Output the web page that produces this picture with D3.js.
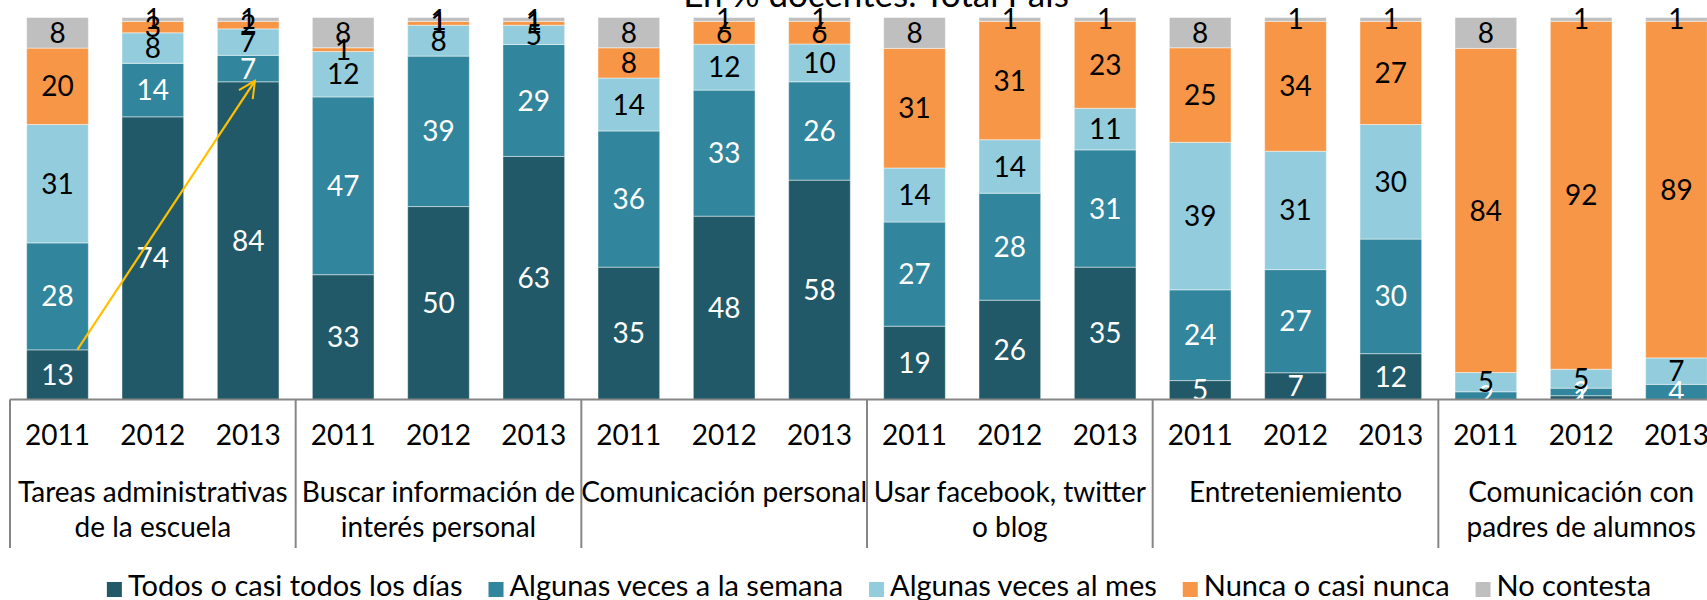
<!DOCTYPE html>
<html>
<head>
<meta charset="utf-8">
<script src="https://cdn.jsdelivr.net/npm/d3@7"></script>
<style>
  body { margin: 0; background: #fff; }
  svg { display: block; font-family: Lato, sans-serif; }
</style>
</head>
<body>
<div id="chart"></div>
<script>
const width = 1707;
const height = 600;

// categories
const groupLines = [
    ["Tareas administrativas", "de la escuela"],
    ["Buscar información de", "interés personal"],
    ["Comunicación personal"],
    ["Usar facebook, twitter", "o blog"],
    ["Entreteniemiento"],
    ["Comunicación con", "padres de alumnos"]
];
const years = ["2011", "2012", "2013"];
const seriesNames = ["Todos o casi todos los días", "Algunas veces a la semana", "Algunas veces al mes", "Nunca o casi nunca", "No contesta"];
const colors = ["#215968", "#31859C", "#93CDDD", "#F79646", "#BFBFBF"];
const labelColors = ["#fff", "#fff", "#000", "#000", "#000"];

// values (%), one per bar: group by group, 2011-2012-2013
const todos      = [13, 74, 84, 33, 50, 63, 35, 48, 58, 19, 26, 35,  5,  7, 12,  0,  1,  0];
const semana     = [28, 14,  7, 47, 39, 29, 36, 33, 26, 27, 28, 31, 24, 27, 30,  2,  2,  4];
const mes        = [31,  8,  7, 12,  8,  5, 14, 12, 10, 14, 14, 11, 39, 31, 30,  5,  5,  7];
const nunca      = [20,  3,  2,  1,  1,  1,  8,  6,  6, 31, 31, 23, 25, 34, 27, 84, 92, 89];
const noContesta = [ 8,  1,  1,  8,  1,  1,  8,  1,  1,  8,  1,  1,  8,  1,  1,  8,  1,  1];
const seriesValues = [todos, semana, mes, nunca, noContesta];

const plotLeft = 10, plotRight = 1724, plotTop = 17.5, plotBottom = 399.5;

const svg = d3.select("#chart")
    .append("svg")
    .attr("width", width)
    .attr("height", height);

// rows for the stack
const rows = [];
groupLines.forEach((g, gi) => {
    years.forEach((y, yi) => {
        const i = gi * 3 + yi;
        const row = { group: gi, year: y };
        seriesNames.forEach((s, si) => row[s] = seriesValues[si][i]);
        rows.push(row);
    });
});

const stack = d3.stack()
    .keys(seriesNames)
    .offset(d3.stackOffsetExpand);
const stacked = stack(rows);

const x0 = d3.scaleBand()
    .domain(d3.range(groupLines.length))
    .range([plotLeft, plotRight]);

const x1 = d3.scaleBand()
    .domain(years)
    .range([0, x0.bandwidth()])
    .paddingInner(0.353)
    .paddingOuter(0.175);

const y = d3.scaleLinear()
    .domain([0, 1])
    .range([plotBottom, plotTop]);

const barX = d => x0(d.data.group) + x1(d.data.year);

svg.append("clipPath")
    .attr("id", "plotclip")
    .append("rect")
    .attr("x", 0)
    .attr("y", -50)
    .attr("width", width)
    .attr("height", plotBottom + 50);

// Title (cut off at the top)
svg.append("text")
    .attr("x", 876)
    .attr("y", 7)
    .attr("text-anchor", "middle")
    .attr("font-size", 35)
    .text("En % docentes. Total País");

// Bars
const layers = svg.selectAll("g.layer")
    .data(stacked)
    .enter()
    .append("g")
    .attr("class", "layer")
    .attr("fill", (d, i) => colors[i]);

layers.selectAll("rect")
    .data(d => d)
    .enter()
    .append("rect")
    .attr("x", barX)
    .attr("y", d => y(d[1]))
    .attr("width", x1.bandwidth())
    .attr("height", d => y(d[0]) - y(d[1]))
    .attr("stroke", "#fff")
    .attr("stroke-opacity", 0.45)
    .attr("stroke-width", 1);

// Data labels
const labels = svg.append("g")
    .attr("clip-path", "url(#plotclip)")
    .attr("font-size", 28)
    .attr("text-anchor", "middle");

stacked.forEach((layer, si) => {
    labels.selectAll(null)
        .data(layer.filter(d => d.data[layer.key] > 0))
        .enter()
        .append("text")
        .attr("x", d => barX(d) + x1.bandwidth() / 2)
        .attr("y", d => y((d[0] + d[1]) / 2))
        .attr("dy", "0.36em")
        .attr("fill", labelColors[si])
        .text(d => d.data[layer.key]);
});

// Axis line and group separators
const axis = svg.append("g")
    .attr("stroke", "#868686")
    .attr("stroke-width", 2);

axis.append("line")
    .attr("x1", plotLeft)
    .attr("x2", plotRight)
    .attr("y1", plotBottom)
    .attr("y2", plotBottom);

axis.selectAll(".sep")
    .data(d3.range(groupLines.length + 1))
    .enter()
    .append("line")
    .attr("x1", i => plotLeft + i * x0.step())
    .attr("x2", i => plotLeft + i * x0.step())
    .attr("y1", plotBottom)
    .attr("y2", 548);

// Year labels
svg.append("g")
    .attr("font-size", 28)
    .attr("text-anchor", "middle")
    .selectAll("text")
    .data(rows)
    .enter()
    .append("text")
    .attr("x", d => x0(d.group) + x1(d.year) + x1.bandwidth() / 2)
    .attr("y", 445)
    .text(d => d.year);

// Group labels
const groupText = svg.append("g")
    .attr("font-size", 28)
    .attr("text-anchor", "middle")
    .selectAll("text")
    .data(groupLines)
    .enter()
    .append("text")
    .attr("x", (d, i) => x0(i) + x0.bandwidth() / 2)
    .attr("y", 502);

groupText.selectAll("tspan")
    .data(d => d)
    .enter()
    .append("tspan")
    .attr("x", function () { return this.parentNode.getAttribute("x"); })
    .attr("dy", (d, i) => i === 0 ? 0 : 35)
    .text(d => d);

// Arrow annotation: from the 2011 "todos" top to the 2013 "todos" top
svg.append("defs")
    .append("marker")
    .attr("id", "arrowhead")
    .attr("viewBox", "0 0 12 12")
    .attr("refX", 11)
    .attr("refY", 6)
    .attr("markerWidth", 9)
    .attr("markerHeight", 9)
    .attr("orient", "auto")
    .append("path")
    .attr("d", "M1,1 L11,6 L1,11")
    .attr("fill", "none")
    .attr("stroke", "#FFC000")
    .attr("stroke-width", 1.2);

const first = stacked[0][0];
const last = stacked[0][2];
svg.append("line")
    .attr("x1", barX(first) + x1.bandwidth() * 0.82)
    .attr("y1", y(first[1]))
    .attr("x2", barX(last) + x1.bandwidth() * 0.61)
    .attr("y2", y(last[1]) - 1)
    .attr("stroke", "#FFC000")
    .attr("stroke-width", 2.2)
    .attr("marker-end", "url(#arrowhead)");

// Legend
const legend = svg.append("g")
    .attr("font-size", 29);

const items = legend.selectAll("g")
    .data(seriesNames)
    .enter()
    .append("g");

items.append("rect")
    .attr("width", 15)
    .attr("height", 15)
    .attr("y", 582)
    .attr("fill", (d, i) => colors[i]);

items.append("text")
    .attr("x", 21)
    .attr("y", 596)
    .text(d => d);

let offset = 0;
const positions = [];
items.each(function () {
    positions.push(offset);
    offset += 21 + this.querySelector("text").getComputedTextLength() + 26;
});
const legendStart = 879 - (offset - 26) / 2;
items.attr("transform", (d, i) => `translate(${legendStart + positions[i]},0)`);
</script>
</body>
</html>
